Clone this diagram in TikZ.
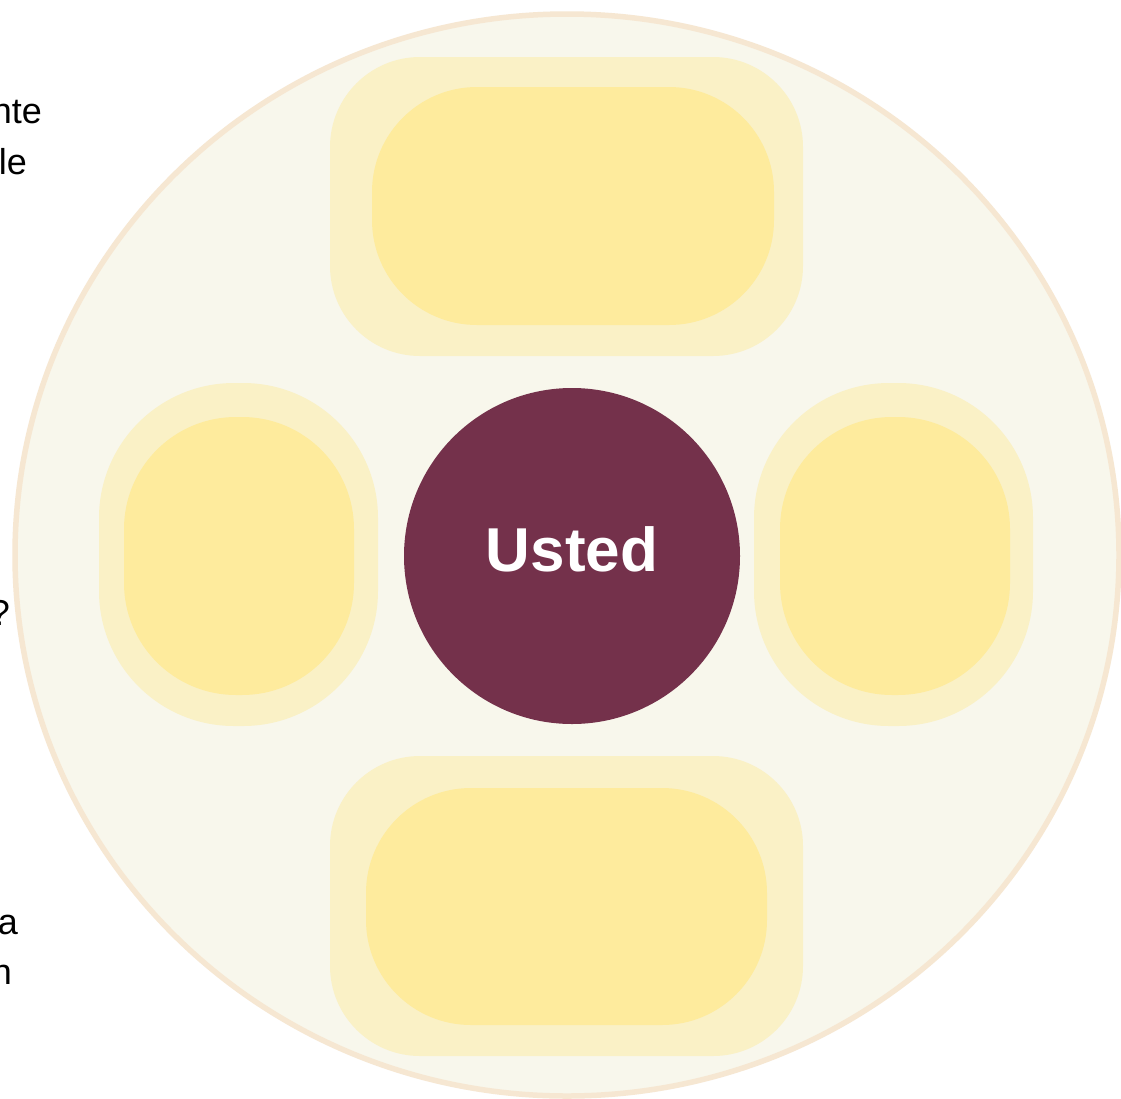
\documentclass[tikz,border=0pt]{standalone}
\usepackage{fontspec}
\setmainfont{Liberation Sans}
\definecolor{ringfill}{HTML}{F8F7EC}
\definecolor{ringline}{HTML}{F6E7D2}
\definecolor{outerbox}{HTML}{FAF1C6}
\definecolor{innerbox}{HTML}{FEEB9D}
\definecolor{hub}{HTML}{74314B}
\tikzset{
  ring/.style={fill=ringfill, draw=ringline, line width=5.5pt},
  outerpad/.style={fill=outerbox},
  innerpad/.style={fill=innerbox},
  hubnode/.style={circle, fill=hub, minimum size=336pt, inner sep=0pt},
  hubtext/.style={anchor=base, inner sep=0pt, text=white, font=\fontsize{62}{68}\selectfont\bfseries},
  edgetext/.style={anchor=base east, inner sep=0pt, font=\fontsize{36}{42}\selectfont, text=black}
}
\begin{document}
\begin{tikzpicture}[x=1pt,y=-1pt]
\useasboundingbox (0,0) rectangle (1121,1098);
\fill[white] (0,0) rectangle (1121,1098);
% big ring
\draw[ring] (567,555) ellipse [x radius=552, y radius=541];
% top pad
\fill[outerpad, rounded corners=90pt] (330,57) rectangle (803,356);
\fill[innerpad, rounded corners=105pt] (372,87) rectangle (774,325);
% bottom pad
\fill[outerpad, rounded corners=90pt] (330,756) rectangle (803,1056);
\fill[innerpad, rounded corners=105pt] (366,788) rectangle (767,1025);
% left pad
\fill[outerpad, rounded corners=135pt] (99,383) rectangle (378,726);
\fill[innerpad, rounded corners=112pt] (124,417) rectangle (354,695);
% right pad
\fill[outerpad, rounded corners=135pt] (754,383) rectangle (1033,726);
\fill[innerpad, rounded corners=112pt] (780,417) rectangle (1010,695);
% hub
\node[hubnode] (usted) at (572,556) {};
\node[hubtext] (ustedlabel) at (572,571) {Usted};
% clipped edge texts
\node[edgetext] (t1) at (42,123) {nte};
\node[edgetext] (t2) at (27,174) {le};
\node[edgetext] (t3) at (10,625) {?};
\node[edgetext] (t4) at (18,934) {a};
\node[edgetext] (t5) at (12,984) {n};
\end{tikzpicture}
\end{document}
